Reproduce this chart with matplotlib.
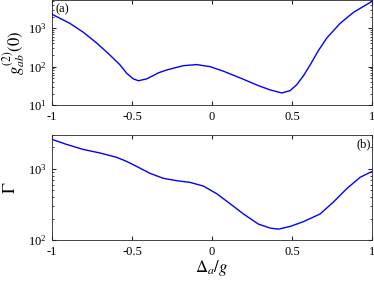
import matplotlib
matplotlib.use("Agg")
import matplotlib.pyplot as plt
from matplotlib.ticker import LogLocator, NullFormatter
import numpy as np

plt.rcParams['font.family'] = ['Liberation Serif', 'DejaVu Serif']
plt.rcParams['mathtext.fontset'] = 'stix'

# detuning Delta_a / g, panel (a)
x_top = [-1.0, -0.888, -0.804, -0.721, -0.638, -0.575, -0.533, -0.492, -0.46,
         -0.408, -0.335, -0.283, -0.179, -0.096, -0.013, 0.071, 0.175, 0.29,
         0.363, 0.436, 0.488, 0.529, 0.571, 0.613, 0.664, 0.717, 0.8, 0.883,
         0.988, 1.0]
# g_ab^(2)(0)
g2 = [2300, 1333, 780, 412, 200, 111, 67, 48, 43,
      48, 69, 82, 106, 113, 100, 76, 51, 32,
      24.8, 20.7, 23.8, 34, 58, 111, 260, 556, 1333, 2570,
      4680, 5000]

# detuning Delta_a / g, panel (b)
x_bot = [-1.0, -0.908, -0.804, -0.7, -0.596, -0.533, -0.471, -0.388, -0.304,
         -0.221, -0.138, -0.054, 0.029, 0.113, 0.196, 0.29, 0.363, 0.415,
         0.488, 0.571, 0.675, 0.758, 0.842, 0.925, 0.988, 1.0]
# Gamma
gamma = [2595, 2200, 1870, 1670, 1450, 1270, 1080, 865, 735,
         681, 645, 572, 447, 323, 232, 167, 147, 142,
         155, 181, 232, 341, 528, 760, 893, 915]

xticks = [-1, -0.5, 0, 0.5, 1]
xticklabels = ['-1', '-0.5', '0', '0.5', '1']

fig = plt.figure(figsize=(3.74, 2.81), dpi=100)
ax1 = fig.add_axes([0.139, 0.626, 0.856, 0.374])
ax2 = fig.add_axes([0.139, 0.146, 0.856, 0.374])

edge = '#262626'
for ax in (ax1, ax2):
    ax.set_yscale('log')
    ax.set_xlim(-1, 1)
    ax.set_xticks(xticks)
    ax.set_xticklabels(xticklabels)
    ax.tick_params(which='both', direction='in', top=True, right=True,
                   labelsize=9, colors=edge, labelcolor='black', pad=4)
    ax.tick_params(which='major', length=3)
    ax.tick_params(which='minor', length=1.5)
    ax.yaxis.set_minor_locator(LogLocator(base=10, subs=np.arange(2, 10)))
    ax.yaxis.set_minor_formatter(NullFormatter())
    for s in ax.spines.values():
        s.set_color(edge)
        s.set_linewidth(0.6)

ax1.plot(x_top, g2, color='#0000ff', lw=1)
ax1.set_ylim(10, 5400)
ax1.set_yticks([10, 100, 1000])
ax1.set_ylabel(r'$g_{ab}^{(2)}(0)$', fontsize=12, labelpad=0)
ax1.text(0.01, 0.97, '(a)', transform=ax1.transAxes, ha='left', va='top', fontsize=9)

ax2.plot(x_bot, gamma, color='#0000ff', lw=1)
ax2.set_ylim(100, 3000)
ax2.set_yticks([100, 1000])
ax2.set_ylabel(r'$\Gamma$', fontsize=13, labelpad=6)
ax2.set_xlabel(r'$\Delta_a/g$', fontsize=12, labelpad=0)
ax2.text(0.995, 0.97, '(b)', transform=ax2.transAxes, ha='right', va='top', fontsize=9)

fig.savefig('out.png', dpi=100)
